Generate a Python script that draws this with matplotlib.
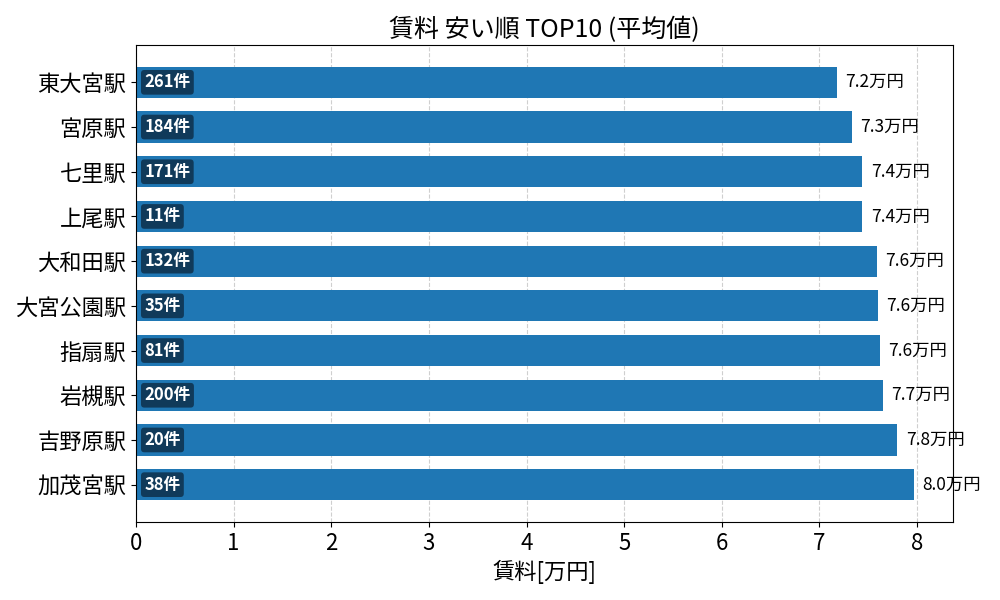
import matplotlib

matplotlib.use("Agg")
import matplotlib.pyplot as plt

# 駅別 平均賃料 (万円) と件数, 安い順
STATIONS = ["東大宮駅", "宮原駅", "七里駅", "上尾駅", "大和田駅",
            "大宮公園駅", "指扇駅", "岩槻駅", "吉野原駅", "加茂宮駅"]
RENT = [7.18, 7.33, 7.44, 7.44, 7.59, 7.60, 7.62, 7.65, 7.80, 7.97]
COUNTS = [261, 184, 171, 11, 132, 35, 81, 200, 20, 38]

plt.rcParams["font.family"] = ["Noto Sans CJK JP", "DejaVu Sans"]

fig, ax = plt.subplots(figsize=(10, 6), dpi=100)
y = range(len(STATIONS))
ax.barh(y, RENT, height=0.7, color="#1f77b4", zorder=2)
ax.set_yticks(list(y))
ax.set_yticklabels(STATIONS, fontsize=16)
ax.invert_yaxis()
ax.set_xlim(0, max(RENT) * 1.05)
ax.tick_params(axis="x", labelsize=16)
ax.grid(axis="x", linestyle="--", color="#bbbbbb", alpha=0.7, zorder=0)
ax.set_axisbelow(True)

for yi, (v, n) in enumerate(zip(RENT, COUNTS)):
    ax.annotate(f"{v:.1f}万円", (v, yi), xytext=(6, 0),
                textcoords="offset points", va="center", ha="left",
                fontsize=12.5)
    ax.annotate(f"{n}件", (0, yi), xytext=(6, 0),
                textcoords="offset points", va="center", ha="left",
                fontsize=12, fontweight="bold", color="white",
                bbox=dict(boxstyle="round,pad=0.2", facecolor="#103a5a",
                          edgecolor="none"))

ax.set_xlabel("賃料[万円]", fontsize=16)
ax.set_title("賃料 安い順 TOP10 (平均値)", fontsize=18)
fig.subplots_adjust(left=0.136, right=0.953, top=0.925, bottom=0.13)
fig.savefig("out.png", dpi=100)
